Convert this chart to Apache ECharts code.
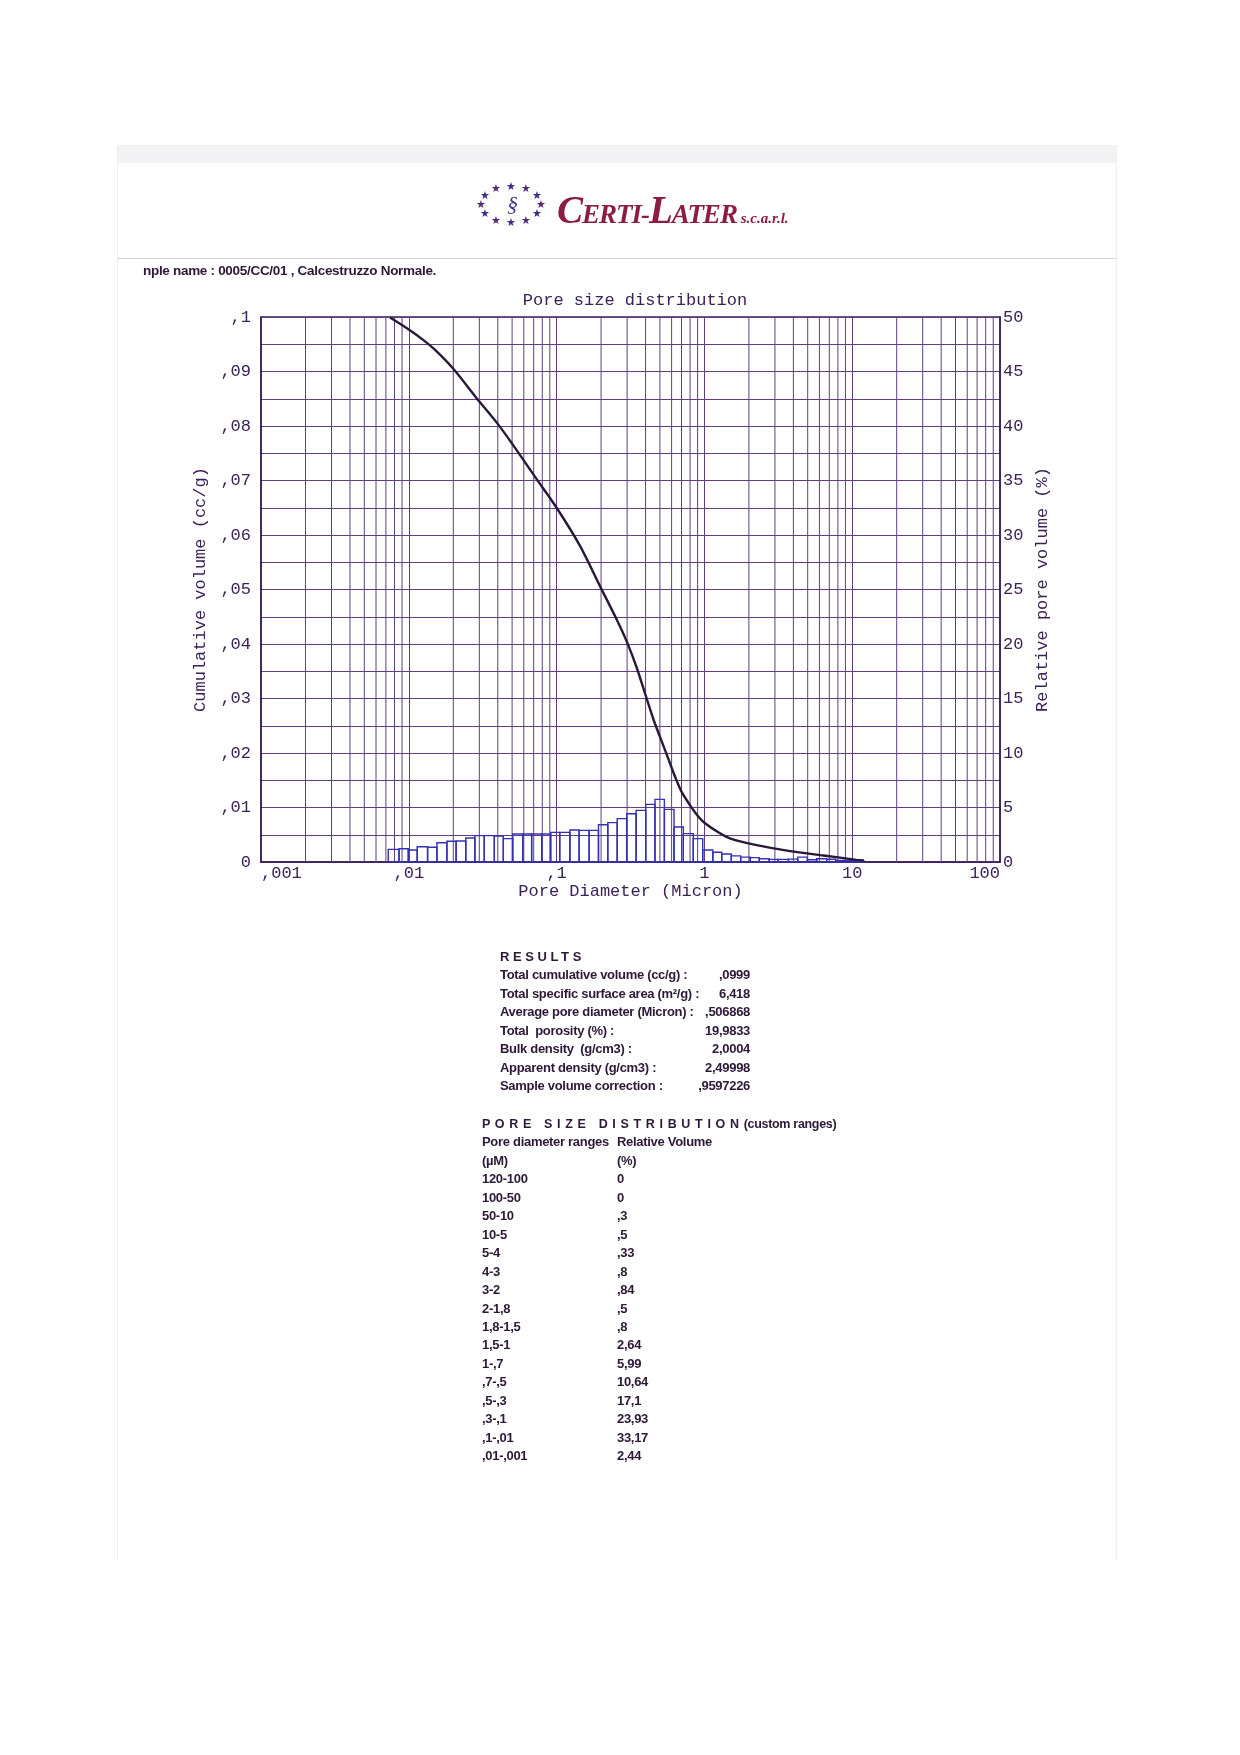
<!DOCTYPE html>
<html>
<head>
<meta charset="utf-8">
<title>Pore size distribution</title>
<script src="https://cdn.jsdelivr.net/npm/echarts@6/dist/echarts.min.js"></script>
<style>
	html, body { margin: 0; padding: 0; background: #ffffff; }
	#page { position: relative; width: 1240px; height: 1755px; overflow: hidden; background: #ffffff; }
	#main { position: absolute; left: 0; top: 0; width: 1240px; height: 1755px; }
	.ov { position: absolute; z-index: 5; pointer-events: none; }
	.txt { font-family: "Liberation Sans", Arial, sans-serif; color: #2e1838; font-size: 13px; font-weight: bold; letter-spacing: -0.3px; white-space: pre; }
	.row { position: absolute; left: 0; height: 18px; line-height: 18px; }
</style>
</head>
<body>
<div id="page">
	<!-- scanned paper edges -->
	<div class="ov" style="left:117px;top:145px;width:1000px;height:18px;background:#f3f2f4;"></div>
	<div class="ov" style="left:117px;top:145px;width:1px;height:1415px;background:#f0eff1;"></div>
	<div class="ov" style="left:1116px;top:145px;width:1px;height:1415px;background:#f0eff1;"></div>

	<div id="main"></div>

	<!-- logo -->
	<div class="ov" id="stars" style="left:476px;top:182px;width:76px;height:48px;"></div>
	<div class="ov" style="left:557px;top:187px;font-family:'Liberation Serif',serif;font-style:italic;font-weight:bold;color:#8c1c40;white-space:nowrap;letter-spacing:-1px;">
		<span style="font-size:39px;">C</span><span style="font-size:27px;">ERTI-</span><span style="font-size:39px;">L</span><span style="font-size:27px;">ATER</span><span style="font-size:15px;letter-spacing:0;"> s.c.a.r.l.</span>
	</div>
	<div class="ov" style="left:117px;top:258px;width:1000px;height:1px;background:#d6d4d8;"></div>
	<div class="ov txt" style="left:143px;top:263px;font-size:13.5px;">nple name : 0005/CC/01 , Calcestruzzo Normale.</div>

	<div class="ov txt" id="results" style="left:500px;top:948px;width:250px;"></div>
	<div class="ov txt" id="dist" style="left:482px;top:1115px;width:400px;"></div>
</div>

<script>
// pore diameter axis (micron), cumulative volume (cc/g), relative volume (%)
var xTickLabels = [',001', ',01', ',1', '1', '10', '100'];
var yLeftLabels = ['0', ',01', ',02', ',03', ',04', ',05', ',06', ',07', ',08', ',09', ',1'];
var yRightLabels = ['0', '5', '10', '15', '20', '25', '30', '35', '40', '45', '50'];
var decades = [0.001, 0.01, 0.1, 1, 10];

// histogram bin edges (micron) and relative pore volume per bin (%)
var binEdges = [
	0.00726, 0.00859, 0.00992, 0.0114, 0.0134, 0.0155, 0.0181, 0.0209, 0.0243, 0.0280,
	0.0324, 0.0379, 0.0436, 0.0505, 0.0590, 0.0678, 0.0793, 0.0912, 0.105, 0.123,
	0.142, 0.166, 0.192, 0.222, 0.257, 0.298, 0.345, 0.401, 0.463, 0.536,
	0.623, 0.720, 0.841, 0.974, 1.14, 1.31, 1.52, 1.76, 2.04, 2.35,
	2.74, 3.16, 3.70, 4.28, 4.97, 5.75, 6.72, 7.74, 8.94, 10.4, 12.0
];
var binVolume = [
	1.16, 1.22, 1.10, 1.40, 1.35, 1.77, 1.90, 1.93, 2.20, 2.42,
	2.42, 2.38, 2.14, 2.57, 2.57, 2.57, 2.57, 2.72, 2.72, 2.94,
	2.90, 2.90, 3.42, 3.61, 3.98, 4.43, 4.74, 5.29, 5.75, 4.83,
	3.21, 2.60, 2.14, 1.10, 0.90, 0.73, 0.56, 0.45, 0.40, 0.30,
	0.24, 0.24, 0.26, 0.45, 0.20, 0.30, 0.25, 0.15, 0.15, 0.12
];

// cumulative intrusion curve
var curveDiam = [
	0.00747, 0.0100, 0.0125, 0.0150, 0.0200, 0.0286, 0.0402, 0.0508, 0.0731,
	0.100, 0.144, 0.200, 0.255, 0.300, 0.349, 0.400, 0.453, 0.500, 0.558,
	0.600, 0.652, 0.700, 0.800, 0.900, 1.00, 1.25, 1.50, 2.26, 3.80,
	6.40, 10.7, 12.0
];
var curveVol = [
	0.0999, 0.0977, 0.0958, 0.0940, 0.0905, 0.0852, 0.0803, 0.0765, 0.0703,
	0.0650, 0.0580, 0.0502, 0.0445, 0.0403, 0.0356, 0.0306, 0.0261, 0.0230, 0.0196,
	0.0173, 0.0148, 0.0129, 0.0104, 0.0085, 0.0072, 0.0054, 0.0043, 0.0031, 0.0020,
	0.0012, 0.0004, 0.0003
];

// results block
var resultLabels = [
	'Total cumulative volume (cc/g) :',
	'Total specific surface area (m\u00b2/g) :',
	'Average pore diameter (Micron) :',
	'Total  porosity (%) :',
	'Bulk density  (g/cm3) :',
	'Apparent density (g/cm3) :',
	'Sample volume correction :'
];
var resultValues = [',0999', '6,418', ',506868', '19,9833', '2,0004', '2,49998', ',9597226'];

// custom ranges table
var rangeLabels = ['120-100', '100-50', '50-10', '10-5', '5-4', '4-3', '3-2', '2-1,8', '1,8-1,5',
	'1,5-1', '1-,7', ',7-,5', ',5-,3', ',3-,1', ',1-,01', ',01-,001'];
var rangeValues = ['0', '0', ',3', ',5', ',33', ',8', ',84', ',5', ',8',
	'2,64', '5,99', '10,64', '17,1', '23,93', '33,17', '2,44'];

var gridColor = '#5f3f82';
var frameColor = '#3a1d57';
var inkColor = '#3c2159';
var mono = '"Liberation Mono", "DejaVu Sans Mono", monospace';

// log sub-grid: 2..9 inside each decade
var minorX = [];
decades.forEach(function(d) {
	for(var k = 2; k <= 9; k++) minorX.push(d * k);
});

var bins = binVolume.map(function(v, i) {
	return [binEdges[i], binEdges[i + 1], v];
});
var curve = curveDiam.map(function(d, i) {
	return [d, curveVol[i]];
});

var myChart = echarts.init(document.getElementById('main'), null, { renderer: 'canvas' });

var option = {
	animation: false,
	backgroundColor: 'transparent',
	title: {
		text: 'Pore size distribution',
		left: 630,
		top: 287,
		textAlign: 'center',
		textStyle: { fontFamily: mono, fontSize: 17, fontWeight: 'normal', color: inkColor }
	},
	grid: {
		left: 261, top: 317, width: 739, height: 545,
		show: true, borderColor: frameColor, borderWidth: 1.5, backgroundColor: 'transparent'
	},
	xAxis: {
		type: 'log',
		logBase: 10,
		min: 0.001,
		max: 100,
		name: 'Pore Diameter (Micron)',
		nameLocation: 'middle',
		nameGap: 20,
		nameTextStyle: { fontFamily: mono, fontSize: 17, color: inkColor, verticalAlign: 'top' },
		axisLine: { show: true, onZero: false, lineStyle: { color: frameColor, width: 1.5 } },
		axisTick: { show: false },
		axisLabel: {
			margin: 3,
			fontFamily: mono, fontSize: 17, color: inkColor,
			alignMinLabel: 'left', alignMaxLabel: 'right',
			formatter: function(v, i) { return xTickLabels[i]; }
		},
		splitLine: { show: true, lineStyle: { color: gridColor, width: 1 } }
	},
	yAxis: [{
		type: 'value',
		position: 'left',
		min: 0,
		max: 0.1,
		interval: 0.01,
		name: 'Cumulative volume (cc/g)',
		nameLocation: 'middle',
		nameRotate: 90,
		nameGap: 45,
		nameTextStyle: { fontFamily: mono, fontSize: 17, color: inkColor },
		axisLine: { show: true, lineStyle: { color: frameColor, width: 1.5 } },
		axisTick: { show: false },
		axisLabel: {
			margin: 10,
			fontFamily: mono, fontSize: 17, color: inkColor,
			formatter: function(v, i) { return yLeftLabels[i]; }
		},
		splitLine: { show: true, lineStyle: { color: gridColor, width: 1 } },
		minorTick: { show: false, splitNumber: 2 },
		minorSplitLine: { show: true, lineStyle: { color: gridColor, width: 1 } }
	}, {
		type: 'value',
		position: 'right',
		min: 0,
		max: 50,
		interval: 5,
		name: 'Relative pore volume (%)',
		nameLocation: 'middle',
		nameRotate: 90,
		nameGap: 32,
		nameTextStyle: { fontFamily: mono, fontSize: 17, color: inkColor },
		axisLine: { show: true, lineStyle: { color: frameColor, width: 1.5 } },
		axisTick: { show: false },
		axisLabel: {
			margin: 3,
			fontFamily: mono, fontSize: 17, color: inkColor,
			formatter: function(v, i) { return yRightLabels[i]; }
		},
		splitLine: { show: false }
	}],
	series: [{
		// log minor grid lines
		type: 'custom',
		name: 'grid',
		silent: true,
		z: 1,
		yAxisIndex: 0,
		data: minorX.map(function(v) { return [v]; }),
		encode: { x: 0 },
		renderItem: function(params, api) {
			var v = api.value(0);
			var a = api.coord([v, 0]);
			var b = api.coord([v, 0.1]);
			return {
				type: 'line',
				shape: { x1: a[0], y1: a[1], x2: b[0], y2: b[1] },
				style: { stroke: gridColor, lineWidth: 1 }
			};
		}
	}, {
		type: 'custom',
		name: 'Relative pore volume',
		yAxisIndex: 1,
		z: 3,
		data: bins,
		encode: { x: [0, 1], y: 2 },
		renderItem: function(params, api) {
			var p0 = api.coord([api.value(0), api.value(2)]);
			var p1 = api.coord([api.value(1), 0]);
			return {
				type: 'rect',
				shape: { x: p0[0], y: p0[1], width: p1[0] - p0[0], height: p1[1] - p0[1] },
				style: { fill: 'none', stroke: '#3531b0', lineWidth: 1.4 }
			};
		}
	}, {
		type: 'line',
		name: 'Cumulative volume',
		yAxisIndex: 0,
		z: 4,
		data: curve,
		smooth: 0.3,
		showSymbol: false,
		lineStyle: { color: '#2a1838', width: 2.4 }
	}]
};

myChart.setOption(option);

// text blocks below the chart
var ROW = 18.45;

function addRow(box, top, html, style) {
	var d = document.createElement('div');
	d.className = 'row';
	d.style.top = top + 'px';
	d.innerHTML = html;
	if(style) d.setAttribute('style', d.getAttribute('style') + ';' + style);
	box.appendChild(d);
	return d;
}

var res = document.getElementById('results');
addRow(res, 0, 'RESULTS', 'letter-spacing:3.6px;font-size:13px;');
resultLabels.forEach(function(l, i) {
	addRow(res, (i + 1) * ROW, l);
	addRow(res, (i + 1) * ROW, resultValues[i], 'left:auto;right:0;');
});

var dist = document.getElementById('dist');
addRow(dist, 0, 'P O R E &nbsp; S I Z E &nbsp; D I S T R I B U T I O N <span style="letter-spacing:-0.3px">(custom ranges)</span>', 'letter-spacing:0.6px;font-size:12.5px;');
var head1 = ['Pore diameter ranges', '(\u00b5M)'];
var head2 = ['Relative Volume', '(%)'];
head1.forEach(function(h, i) {
	addRow(dist, (i + 1) * ROW, h);
	addRow(dist, (i + 1) * ROW, head2[i], 'left:135px;');
});
rangeLabels.forEach(function(l, i) {
	addRow(dist, (i + 3) * ROW, l);
	addRow(dist, (i + 3) * ROW, rangeValues[i], 'left:135px;');
});

// logo emblem: ring of small stars
var stars = document.getElementById('stars');
for(var s = 0; s < 12; s++) {
	var ang = s / 12 * Math.PI * 2;
	var st = document.createElement('span');
	st.textContent = '\u2605';
	st.style.position = 'absolute';
	st.style.left = (30 + Math.cos(ang) * 30) + 'px';
	st.style.top = (16 + Math.sin(ang) * 18) + 'px';
	st.style.fontSize = '11px';
	st.style.color = s % 2 ? '#3b2f8c' : '#5a2a78';
	st.style.fontFamily = '"DejaVu Sans", sans-serif';
	stars.appendChild(st);
}
var core = document.createElement('span');
core.textContent = '\u00a7';
core.style.position = 'absolute';
core.style.left = '31px';
core.style.top = '9px';
core.style.fontSize = '22px';
core.style.fontStyle = 'italic';
core.style.color = '#4a3a8a';
core.style.fontFamily = '"Liberation Serif", serif';
stars.appendChild(core);

window.addEventListener('resize', function() {
	myChart.resize();
});
</script>
</body>
</html>
